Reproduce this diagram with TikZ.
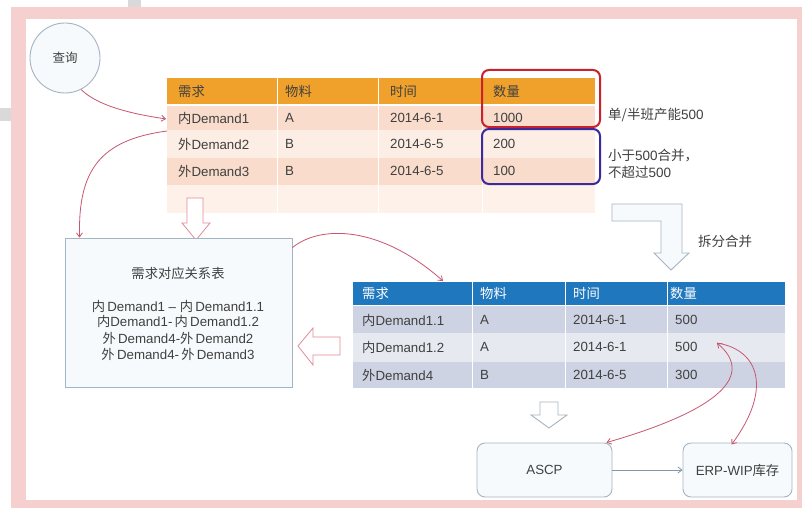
\documentclass[tikz,border=0pt]{standalone}
\usepackage{fontspec}
\setmainfont{Liberation Sans}
\newfontfamily\cjk{Noto Sans CJK SC}
\newcommand\zh[1]{{\cjk #1}}
\usetikzlibrary{arrows.meta}
\definecolor{frame}{HTML}{F6CFCF}
\definecolor{graybit}{HTML}{D9D9D9}
\definecolor{txt}{HTML}{404040}
\definecolor{orangeh}{HTML}{F0A12B}
\definecolor{peachA}{HTML}{F9DCCB}
\definecolor{peachB}{HTML}{FCEDE5}
\definecolor{peachC}{HTML}{FDF1EA}
\definecolor{blueh}{HTML}{1F77BD}
\definecolor{greyA}{HTML}{CDD3E2}
\definecolor{greyB}{HTML}{E6E9F0}
\definecolor{redbox}{HTML}{C8232C}
\definecolor{bluebox}{HTML}{3A2A9A}
\definecolor{curve}{HTML}{C8566E}
\definecolor{pinkline}{HTML}{E38A96}
\definecolor{boxfill}{HTML}{F7FAFC}
\definecolor{boxline}{HTML}{A5B4C2}
\definecolor{flowline}{HTML}{7F97AA}
\begin{document}
\begin{tikzpicture}[x=1pt,y=-1pt,
  every node/.style={inner sep=0pt, text=txt, font=\fontsize{13.3}{16}\selectfont},
  cell/.style={anchor=west},
  hcell/.style={anchor=west},
  whitecell/.style={anchor=west, text=white},
  divider/.style={white, line width=1pt},
  conn/.style={curve, line width=0.8pt, -{Straight Barb[length=4pt,width=6pt]}},
  hollowpink/.style={draw=pinkline, fill=white, line width=0.8pt, line join=miter},
  hollowgray/.style={draw=boxline, fill=boxfill, line width=0.9pt},
  roundbox/.style={draw=boxline, fill=boxfill, line width=0.9pt, rounded corners=8pt},
  sidetext/.style={anchor=west, font=\fontsize{13.5}{17.5}\selectfont, align=left}
]
\useasboundingbox (0,0) rectangle (802,508);
% frame
\fill[frame] (11,7) rectangle (802,508);
\fill[white] (26,19) rectangle (797,500);
\fill[graybit] (128,0) rectangle (141,7);
\fill[graybit] (0,108) rectangle (11,121);

% query circle
\node (q) [circle, draw=boxline, fill=boxfill, line width=0.9pt, minimum size=70pt, font=\fontsize{12.5}{15}\selectfont] at (65,58) {\zh{查询}};

% table 1
\fill[orangeh] (167,78) rectangle (595,104);
\fill[peachA] (167,106) rectangle (595,130);
\fill[peachB] (167,130) rectangle (595,158);
\fill[peachA] (167,158) rectangle (595,185);
\fill[peachC] (167,185) rectangle (595,213);
\foreach \x in {277,378,482} \draw[divider] (\x,78) -- (\x,213);
\node (h11) [hcell] at (178,91) {\zh{需求}};
\node (h12) [hcell] at (285,91) {\zh{物料}};
\node (h13) [hcell] at (390,91) {\zh{时间}};
\node (h14) [hcell] at (493,91) {\zh{数量}};
\node (a11) [cell] at (178,118) {\zh{内}Demand1};
\node (a12) [cell] at (285,118) {A};
\node (a13) [cell] at (390,118) {2014-6-1};
\node (a14) [cell] at (493,118) {1000};
\node (a21) [cell] at (178,144) {\zh{外}Demand2};
\node (a22) [cell] at (285,144) {B};
\node (a23) [cell] at (390,144) {2014-6-5};
\node (a24) [cell] at (493,144) {200};
\node (a31) [cell] at (178,171) {\zh{外}Demand3};
\node (a32) [cell] at (285,171) {B};
\node (a33) [cell] at (390,171) {2014-6-5};
\node (a34) [cell] at (493,171) {100};
\draw[redbox, line width=2pt, rounded corners=7pt] (482,70) rectangle (600,127);
\draw[bluebox, line width=2pt, rounded corners=7pt] (482,129) rectangle (600,184);
\node (s1) [sidetext] at (608,115) {\zh{单/半班产能}500};
\node (s2) [sidetext] at (608,164) {\zh{小于}500\zh{合并，}\\\zh{不超过}500};

% bent hollow arrow
\draw[hollowgray] (612,204) -- (682,204) -- (682,253) -- (689,253) -- (671,270) -- (654,253) -- (661,253) -- (661,221) -- (612,221) -- cycle;
\node (s3) [sidetext] at (698,241) {\zh{拆分合并}};

% pink down arrow
\draw[hollowpink] (187,198) -- (203,198) -- (203,223) -- (210,223) -- (196,240) -- (182,223) -- (187,223) -- cycle;

% relation box
\node (rel) [draw=boxline, fill=boxfill, line width=0.9pt, minimum width=227pt, minimum height=149pt] at (178.5,312.5) {};
\node (rt) at (178,273) {\zh{需求对应关系表}};
\node (r1) at (178,306) {\zh{内}\,Demand1 -- \zh{内}\,Demand1.1};
\node (r2) at (178,321) {\zh{内}Demand1-\,\zh{内}\,Demand1.2};
\node (r3) at (178,338) {\zh{外}\,Demand4-\zh{外}\,Demand2};
\node (r4) at (178,354) {\zh{外}\,Demand4-\,\zh{外}\,Demand3};

% left pink arrow
\draw[hollowpink] (340,337) -- (313,337) -- (313,328) -- (298,346) -- (313,365) -- (313,355) -- (340,355) -- cycle;

% table 2
\fill[blueh] (353,282) rectangle (785,305);
\fill[greyA] (353,306) rectangle (785,333);
\fill[greyB] (353,333) rectangle (785,362);
\fill[greyA] (353,362) rectangle (785,388);
\foreach \x in {472,565,667} \draw[divider] (\x,282) -- (\x,388);
\node (h21) [whitecell] at (362,293) {\zh{需求}};
\node (h22) [whitecell] at (480,293) {\zh{物料}};
\node (h23) [whitecell] at (573,293) {\zh{时间}};
\node (h24) [whitecell] at (670,293) {\zh{数量}};
\node (b11) [cell] at (362,320) {\zh{内}Demand1.1};
\node (b12) [cell] at (480,320) {A};
\node (b13) [cell] at (573,320) {2014-6-1};
\node (b14) [cell] at (675,320) {500};
\node (b21) [cell] at (362,347) {\zh{内}Demand1.2};
\node (b22) [cell] at (480,347) {A};
\node (b23) [cell] at (573,347) {2014-6-1};
\node (b24) [cell] at (675,347) {500};
\node (b31) [cell] at (362,375) {\zh{外}Demand4};
\node (b32) [cell] at (480,375) {B};
\node (b33) [cell] at (573,375) {2014-6-5};
\node (b34) [cell] at (675,375) {300};

% gray down arrow
\draw[draw=boxline, fill=white, line width=0.9pt] (540,402) -- (558,402) -- (558,415) -- (567,415) -- (549,428) -- (531,415) -- (540,415) -- cycle;

% bottom boxes
\node (ascp) [roundbox, minimum width=135pt, minimum height=54pt] at (544.5,470) {ASCP};
\node (erp) [roundbox, minimum width=109pt, minimum height=54pt] at (737.5,470) {ERP-WIP\zh{库存}};
\draw[flowline, line width=0.8pt, -{Straight Barb[length=4pt,width=6pt]}] (ascp) -- (erp);

% curved connectors
\coordinate (r1in) at (166,119);
\coordinate (r1out) at (167,131);
\coordinate (t2top) at (443,281);
\coordinate (qty) at (717,343);
\draw[conn] (q.-63) .. controls (100,108) and (140,115) .. (r1in);
\draw[conn] (r1out) .. controls (100,140) and (78,170) .. ([xshift=15pt]rel.north west);
\draw[conn] ([yshift=-10pt]rel.north east) .. controls (320,225) and (380,225) .. (t2top);
\draw[conn, {Straight Barb[length=4pt,width=6pt]}-{Straight Barb[length=4pt,width=6pt]}] (qty) .. controls (755,375) and (720,410) .. ([xshift=-6pt]ascp.north east);
\draw[conn] (qty) .. controls (760,350) and (772,390) .. ([xshift=-6pt,yshift=-2pt]erp.north);
\end{tikzpicture}
\end{document}
